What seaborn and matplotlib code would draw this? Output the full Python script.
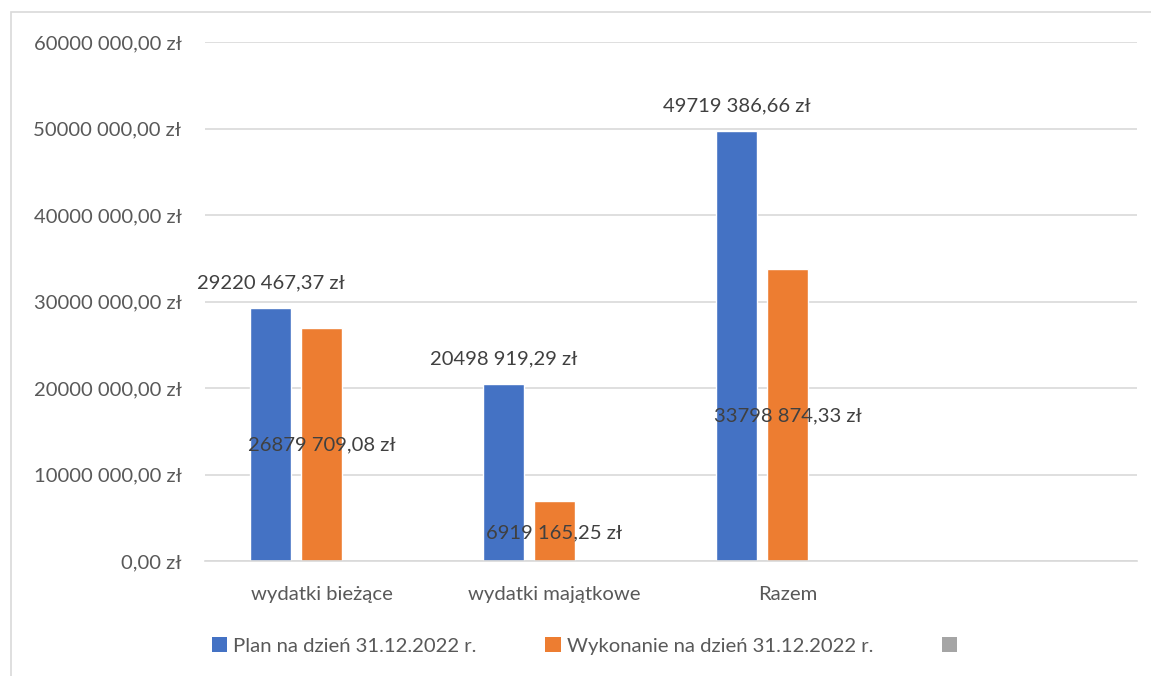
import pandas as pd
import numpy as np
import matplotlib.pyplot as plt
import seaborn as sns
from matplotlib.patches import Rectangle, Patch
from matplotlib.ticker import FuncFormatter

kategorie = ['wydatki bieżące', 'wydatki majątkowe', 'Razem', '']
serie = ['Plan na dzień 31.12.2022 r.', 'Wykonanie na dzień 31.12.2022 r.', ' ']
plan = [29220467.37, 20498919.29, 49719386.66, np.nan]
wykonanie = [26879709.08, 6919165.25, 33798874.33, np.nan]
puste = [np.nan, np.nan, np.nan, np.nan]
kolory = ['#4472c4', '#ed7d31', '#a5a5a5']
# wysokosc etykiet wykonania (Excel przesunal je recznie)
wyk_etykiety_y = [13400000, 3250000, 16750000]


def zl(v):
    grosze = int(round(v * 100))
    zlote, gr = divmod(grosze, 100)
    if zlote >= 1000:
        s = f"{zlote // 1000} {zlote % 1000:03d}"
    else:
        s = str(zlote)
    return f"{s},{gr:02d} zł"


df = pd.DataFrame({
    'kategoria': kategorie * 3,
    'seria': [serie[0]] * 4 + [serie[1]] * 4 + [serie[2]] * 4,
    'wartosc': plan + wykonanie + puste,
})

sns.set_style("white")
plt.rcParams['font.family'] = ['Lato', 'DejaVu Sans']
fs = 14.6

fig = plt.figure(figsize=(11.51, 6.76), dpi=100)
ax = fig.add_axes([205 / 1151, 1 - 561 / 676, 932 / 1151, 519 / 676])

sns.barplot(data=df, x='kategoria', y='wartosc', hue='seria', order=kategorie,
            hue_order=serie, palette=kolory, width=0.657, gap=0.2,
            errorbar=None, saturation=1, ax=ax, legend=False)

ax.set_xlim(-0.5, 3.5)
ax.set_ylim(0, 60000000)
ax.set_yticks(np.arange(0, 60000001, 10000000))
ax.yaxis.set_major_formatter(FuncFormatter(lambda v, p: zl(v)))
ax.grid(axis='y', color='#d9d9d9', linewidth=1.2)
ax.set_axisbelow(True)
for s in ['top', 'right', 'left']:
    ax.spines[s].set_visible(False)
ax.spines['bottom'].set_color('#d9d9d9')
ax.spines['bottom'].set_linewidth(1.2)
ax.tick_params(axis='both', length=0, labelsize=fs, colors='#595959')
ax.tick_params(axis='y', pad=17)
ax.tick_params(axis='x', pad=18)
ax.set_xlabel('')
ax.set_ylabel('')

dx = 0.657 / 3
for i in range(3):
    ax.annotate(zl(plan[i]), (i - dx, plan[i]), xytext=(0, 25), textcoords='offset pixels',
                ha='center', va='center', fontsize=fs, color='#404040')
    ax.text(i, wyk_etykiety_y[i], zl(wykonanie[i]), ha='center', va='center',
            fontsize=fs, color='#404040')

uchwyty = [Patch(facecolor=k, edgecolor='none') for k in kolory]
fig.legend(uchwyty, serie, loc='center', bbox_to_anchor=(590 / 1151, 1 - 646 / 676),
           ncol=3, frameon=False, fontsize=fs, labelcolor='#595959',
           handlelength=0.75, handleheight=0.75, handletextpad=0.3, columnspacing=3.4)

fig.patches.append(Rectangle((11 / 1151, -0.1), 1.2, 1 - 12 / 676 + 0.1,
                             transform=fig.transFigure, fill=False,
                             edgecolor='#d9d9d9', linewidth=1.2))

plt.savefig('out.png', dpi=100)
